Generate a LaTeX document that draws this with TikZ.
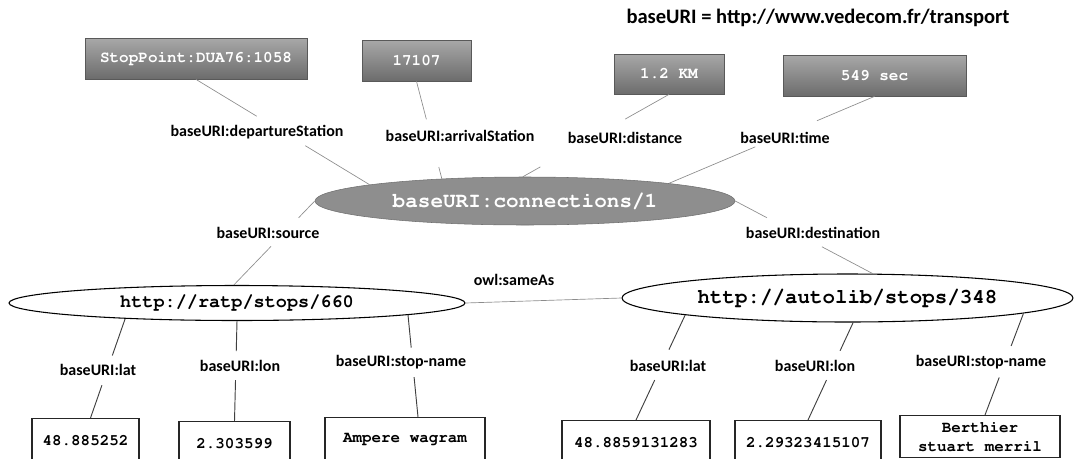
\documentclass[tikz,border=0pt]{standalone}
\usepackage[T1]{fontenc}
\usepackage{fontspec}
\setmainfont{Carlito}
% Courier for the resource and literal texts
\newcommand\cour{\fontencoding{T1}\fontfamily{pcr}\bfseries\selectfont}
\usetikzlibrary{shapes.geometric,calc}

\definecolor{boxtop}{HTML}{A8A8A8}
\definecolor{boxbot}{HTML}{6C6C6C}
\definecolor{boxline}{HTML}{595959}
\definecolor{hubfill}{HTML}{8E8E8E}
\definecolor{hubline}{HTML}{6E6E6E}
\definecolor{thinline}{HTML}{8C8C8C}

\tikzset{
  valbox/.style={rectangle, draw=boxline, line width=0.6pt, top color=boxtop,
    bottom color=boxbot, text=white, inner sep=0pt, minimum height=30.75pt,
    font=\cour\fontsize{12}{14}\selectfont},
  prop/.style={inner sep=0pt, font=\bfseries\fontsize{12}{14}\selectfont},
  hub/.style={ellipse, draw=hubline, fill=hubfill, text=white, inner sep=0pt,
    minimum width=315pt, minimum height=36pt,
    font=\cour\fontsize{15.75}{18}\selectfont},
  stop/.style={ellipse, draw=black, fill=white, line width=0.8pt, inner sep=0pt},
  lit/.style={rectangle, draw=black!85, line width=0.8pt, fill=white, inner sep=0pt,
    anchor=north, minimum height=33pt, align=center,
    font=\cour\fontsize{11.9}{14}\selectfont},
  upper/.style={draw=thinline, line width=0.5pt},
  lower/.style={draw=black!75, line width=0.7pt},
}

% an edge between two anchors, drawn as two pieces with a gap for its label
\newcommand\splitedge[7]{%
  \draw[#1] ($(#2)!#4!(#3)$) -- ($(#2)!#5!(#3)$) ($(#2)!#6!(#3)$) -- ($(#2)!#7!(#3)$);}

\begin{document}
\begin{tikzpicture}[x=0.75pt, y=-0.75pt]
\useasboundingbox (0,0) rectangle (1075,458);

% namespace
\node[font=\bfseries\fontsize{15.4}{18}\selectfont, inner sep=0pt] (base) at (818,18)
  {baseURI = http://www.vedecom.fr/transport};

% literal values of the connection
\node[valbox, minimum width=166.5pt] (b1) at (196,58.5) {StopPoint:DUA76:1058};
\node[valbox, minimum width=81.75pt] (b2) at (416.5,60.5) {17107};
\node[valbox, minimum width=82.5pt, minimum height=30pt] (b3) at (669,74) {1.2 KM};
\node[valbox, minimum width=137.25pt] (b4) at (874.5,75.5) {549 sec};

% resources
\node[hub] (hub) at (525,201) {baseURI:connections/1};
\node[stop, minimum width=342pt, minimum height=26.25pt,
  font=\cour\fontsize{13.9}{16}\selectfont] (ratp) at (237,303) {http://ratp/stops/660};
\node[stop, minimum width=338.25pt, minimum height=36pt,
  font=\cour\fontsize{15.6}{18}\selectfont] (autolib) at (847.5,298) {http://autolib/stops/348};

% literals of the stops
\node[lit, minimum width=80.25pt] (rl1) at (85.5,418) {48.885252};
\node[lit, minimum width=83.25pt] (rl2) at (234.5,421) {2.303599};
\node[lit, minimum width=120pt] (rl3) at (405,417) {Ampere wagram};
\node[lit, minimum width=111pt] (rr1) at (636,420) {48.8859131283};
\node[lit, minimum width=109.5pt] (rr2) at (808,420) {2.29323415107};
\node[lit, minimum width=120pt, minimum height=31.5pt] (rr3) at (980,415) {Berthier\\stuart merril};

% where the stop edges meet their literal boxes
\coordinate (rl1t) at ($(rl1.north)+(5,0)$);
\coordinate (rl3t) at ($(rl3.north)+(13,0)$);
\coordinate (rr3t) at ($(rr3.north)+(5,0)$);

% property labels
\node[prop] (pdep)  at (257,132) {baseURI:departureStation};
\node[prop] (parr)  at (460,136) {baseURI:arrivalStation};
\node[prop] (pdist) at (625,138) {baseURI:distance};
\node[prop] (ptime) at (785,138) {baseURI:time};
\node[prop] (psrc)  at (268,233) {baseURI:source};
\node[prop] (pdst)  at (813,233) {baseURI:destination};
\node[prop] (psame) at (514,280) {owl:sameAs};
\node[prop] (plat1) at (98,370) {baseURI:lat};
\node[prop] (plon1) at (240,366) {baseURI:lon};
\node[prop] (pnam1) at (401,362) {baseURI:stop-name};
\node[prop] (plat2) at (668,366) {baseURI:lat};
\node[prop] (plon2) at (815,366) {baseURI:lon};
\node[prop] (pnam2) at (981,362) {baseURI:stop-name};

% edges of the connection
\splitedge{upper}{b1.south}{hub.174}{0}{0.35}{0.63}{1}
\splitedge{upper}{b2.south}{hub.165}{0}{0.39}{0.88}{1}
\splitedge{upper}{b3.south}{hub.95}{0}{0.30}{0.88}{1}
\splitedge{upper}{b4.south}{hub.7}{0}{0.28}{0.58}{1}
\splitedge{upper}{hub.west}{ratp.100}{0}{0.20}{0.54}{1}
\splitedge{upper}{hub.east}{autolib.44}{0}{0.23}{0.63}{1}
\draw[upper] (ratp.east) -- (autolib.west);

% edges of the stops
\splitedge{lower}{ratp.188}{rl1t}{0}{0.37}{0.67}{1}
\splitedge{lower}{ratp.south}{rl2.north}{0}{0.30}{0.59}{1}
\splitedge{lower}{ratp.356}{rl3t}{0}{0.32}{0.61}{1}
\splitedge{lower}{autolib.186}{rr1.north}{0}{0.33}{0.62}{1}
\splitedge{lower}{autolib.283}{rr2.north}{0}{0.29}{0.59}{1}
\splitedge{lower}{autolib.355}{rr3t}{0}{0.32}{0.63}{1}
\end{tikzpicture}
\end{document}
